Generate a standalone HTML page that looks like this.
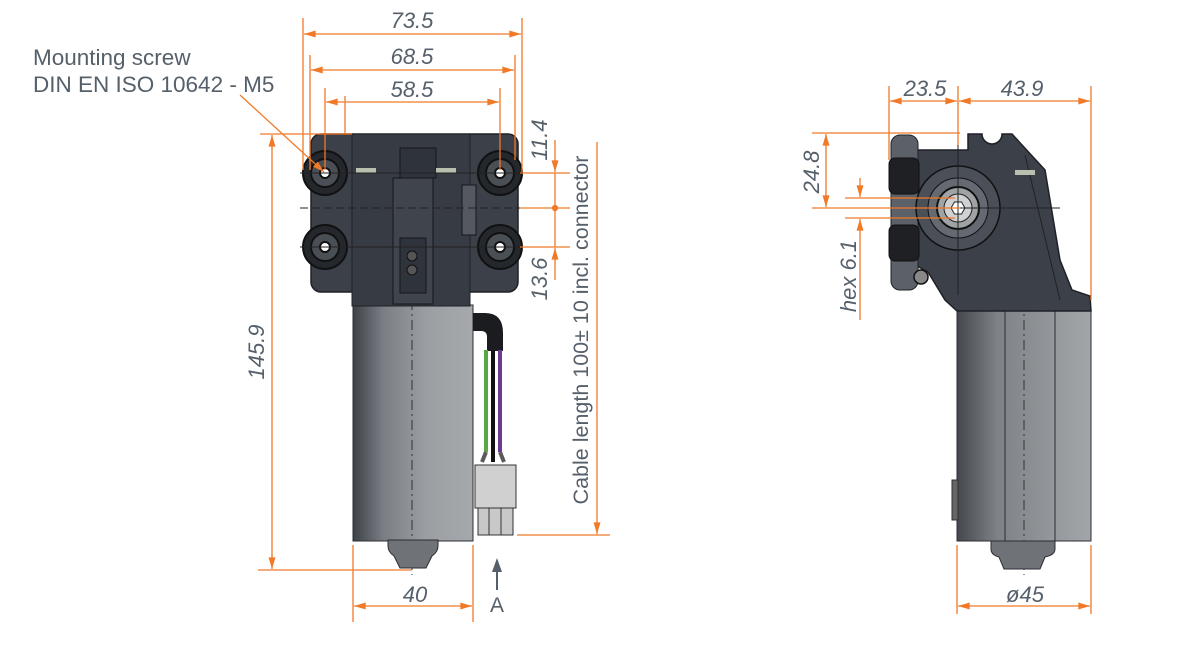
<!DOCTYPE html>
<html><head><meta charset="utf-8"><style>
html,body{margin:0;padding:0;background:#fff;}
svg{display:block;}
text{font-family:"Liberation Sans",sans-serif;fill:#56606b;}
</style></head><body>
<svg width="1200" height="646" viewBox="0 0 1200 646" xmlns="http://www.w3.org/2000/svg">
<defs>
<linearGradient id="mot" x1="0" x2="1" y1="0" y2="0">
<stop offset="0" stop-color="#3d4148"/><stop offset="0.25" stop-color="#7a7e84"/><stop offset="0.6" stop-color="#9a9ea2"/><stop offset="1" stop-color="#a6a9ac"/>
</linearGradient>
<linearGradient id="mot2" x1="0" x2="1" y1="0" y2="0">
<stop offset="0" stop-color="#44484e"/><stop offset="0.3" stop-color="#7e8287"/><stop offset="1" stop-color="#a3a6a9"/>
</linearGradient>
<marker id="ar" viewBox="0 0 10 6" refX="10" refY="3" markerWidth="12" markerHeight="7" orient="auto-start-reverse" markerUnits="userSpaceOnUse"><path d="M0,0 L10,3 L0,6 z" fill="#f07a28"/></marker>
</defs>

<!-- ===== LEFT VIEW ===== -->
<rect x="353" y="305" width="120" height="236" fill="url(#mot)" stroke="#2b2e33" stroke-width="1"/>
<line x1="412" y1="300" x2="412" y2="575" stroke="#333" stroke-dasharray="10,4,2,4" stroke-width="1"/>
<path d="M388,540 h50 v6 q0,6 -6,10 l-6,12 h-26 l-6,-12 q-6,-4 -6,-10z" fill="#6f7378" stroke="#2b2e33"/>
<rect x="311" y="134" width="207" height="158" rx="10" fill="#3b4049" stroke="#1e2126" stroke-width="1.5"/>
<rect x="352" y="134" width="118" height="172" fill="#363b44" stroke="#1e2126"/>
<rect x="400" y="148" width="36" height="30" fill="#2f333b" stroke="#15171a"/>
<rect x="393" y="178" width="40" height="126" fill="#3f444d" stroke="#15171a"/>
<rect x="400" y="238" width="26" height="55" fill="#2f333b" stroke="#15171a"/>
<circle cx="412" cy="256" r="5" fill="#555" stroke="#111"/><circle cx="412" cy="270" r="5" fill="#555" stroke="#111"/>
<rect x="462" y="185" width="14" height="50" fill="#55595f" stroke="#15171a"/>
<rect x="356" y="168" width="20" height="5" fill="#b9c0b0"/><rect x="436" y="168" width="20" height="5" fill="#b9c0b0"/>
<g stroke="#111" stroke-width="2">
<circle cx="325" cy="173" r="22" fill="#24272c"/><circle cx="325" cy="173" r="14" fill="#4a4e55"/><circle cx="325" cy="173" r="5" fill="#fff"/>
<circle cx="325" cy="247" r="22" fill="#24272c"/><circle cx="325" cy="247" r="14" fill="#4a4e55"/><circle cx="325" cy="247" r="5" fill="#fff"/>
<circle cx="500" cy="173" r="22" fill="#24272c"/><circle cx="500" cy="173" r="14" fill="#4a4e55"/><circle cx="500" cy="173" r="5" fill="#fff"/>
<circle cx="500" cy="247" r="22" fill="#24272c"/><circle cx="500" cy="247" r="14" fill="#4a4e55"/><circle cx="500" cy="247" r="5" fill="#fff"/>
</g>
<g stroke="#222" stroke-width="1">
<line x1="300" y1="173" x2="560" y2="173"/><line x1="300" y1="247" x2="560" y2="247"/>
<line x1="300" y1="208" x2="560" y2="208" stroke-dasharray="8,4"/>
</g>
<path d="M473,313 h12 q18,0 18,20 v18 h-16 v-14 q0,-6 -6,-6 h-8z" fill="#1b1c1f"/>
<line x1="486" y1="350" x2="486" y2="452" stroke="#5aa845" stroke-width="4"/>
<line x1="493" y1="350" x2="493" y2="462" stroke="#111" stroke-width="4"/>
<line x1="500" y1="350" x2="500" y2="452" stroke="#6a3b93" stroke-width="4"/>
<path d="M486,452 l-4,10 M500,452 l4,10" stroke="#5a5a5a" stroke-width="4"/>
<rect x="475" y="465" width="41" height="43" fill="#d0d0d0" stroke="#333"/>
<rect x="478" y="508" width="35" height="27" fill="#c8c8c8" stroke="#333"/>
<line x1="489" y1="508" x2="489" y2="535" stroke="#333"/><line x1="501" y1="508" x2="501" y2="535" stroke="#333"/>

<!-- ===== RIGHT VIEW ===== -->
<rect x="957" y="311" width="134" height="230" fill="url(#mot2)" stroke="#2b2e33"/>
<line x1="1005" y1="311" x2="1005" y2="541" stroke="#2b2e33"/><line x1="1055" y1="311" x2="1055" y2="541" stroke="#2b2e33"/>
<line x1="1024" y1="300" x2="1024" y2="575" stroke="#333" stroke-dasharray="10,4,2,4"/>
<rect x="952" y="480" width="6" height="40" fill="#666" stroke="#333"/>
<path d="M991,541 h64 v8 q0,6 -10,8 l-5,12 h-36 l-5,-12 q-8,-2 -8,-8z" fill="#6f7378" stroke="#2b2e33"/>
<path d="M917,150 L968,150 L968,134 L982,134 A10,10 0 0 0 1002,134 L1012,134 L1022,145 L1045,170 L1060,260 L1072,290 L1090,296 L1091,311 L957,311 L945,300 L928,272 L917,266 Z" fill="#3b4049" stroke="#1e2126" stroke-width="1.5"/>
<line x1="1025" y1="155" x2="1060" y2="300" stroke="#222"/>
<rect x="1015" y="170" width="20" height="5" fill="#b9c0b0"/>
<rect x="891" y="135" width="27" height="155" rx="9" fill="#5c6068" stroke="#1e2126"/>
<rect x="889" y="158" width="30" height="36" rx="6" fill="#1e2024" stroke="#111"/>
<rect x="889" y="225" width="30" height="36" rx="6" fill="#1e2024" stroke="#111"/>
<circle cx="921" cy="277" r="7" fill="#888" stroke="#111" stroke-width="1.5"/>
<circle cx="958" cy="208" r="42" fill="#4a4f58" stroke="#111" stroke-width="1.5"/>
<circle cx="958" cy="208" r="30" fill="#656a72" stroke="#111"/>
<circle cx="958" cy="208" r="21" fill="#a0a3a6" stroke="#111" stroke-width="2"/>
<circle cx="958" cy="208" r="14" fill="#cfd1d3" stroke="#222"/>
<polygon points="965,208 961.5,214 954.5,214 951,208 954.5,202 961.5,202" fill="#fff" stroke="#222"/>
<line x1="958" y1="140" x2="958" y2="295" stroke="#222"/>
<line x1="880" y1="208" x2="1060" y2="208" stroke="#222"/>

<!-- ===== DIMENSIONS ===== -->
<g stroke="#f07a28" stroke-width="1.3" fill="none">
<line x1="303" y1="18" x2="303" y2="170"/><line x1="522" y1="18" x2="522" y2="172"/>
<line x1="304" y1="34" x2="521" y2="34" marker-start="url(#ar)" marker-end="url(#ar)"/>
<line x1="310" y1="55" x2="310" y2="170"/><line x1="515" y1="55" x2="515" y2="160"/>
<line x1="311" y1="70" x2="514" y2="70" marker-start="url(#ar)" marker-end="url(#ar)"/>
<line x1="325" y1="88" x2="325" y2="170"/><line x1="500" y1="88" x2="500" y2="170"/><line x1="345" y1="96" x2="345" y2="134"/>
<line x1="326" y1="102" x2="499" y2="102" marker-start="url(#ar)" marker-end="url(#ar)"/>
<line x1="260" y1="134" x2="352" y2="134"/><line x1="258" y1="570" x2="412" y2="570"/>
<line x1="272" y1="135" x2="272" y2="569" marker-start="url(#ar)" marker-end="url(#ar)"/>
<line x1="240" y1="95" x2="324" y2="172" marker-end="url(#ar)"/>
<line x1="520" y1="173" x2="570" y2="173"/><line x1="520" y1="208" x2="570" y2="208"/><line x1="520" y1="247" x2="570" y2="247"/>
<line x1="555" y1="140" x2="555" y2="172" marker-end="url(#ar)"/>
<line x1="555" y1="173" x2="555" y2="247"/>
<line x1="555" y1="280" x2="555" y2="248" marker-end="url(#ar)"/>
<circle cx="555" cy="208" r="2.5" fill="#f07a28"/>
<line x1="517" y1="535" x2="610" y2="535"/>
<line x1="597" y1="142" x2="597" y2="534" marker-end="url(#ar)"/>
<line x1="353" y1="545" x2="353" y2="622"/><line x1="473" y1="545" x2="473" y2="622"/>
<line x1="354" y1="606" x2="472" y2="606" marker-start="url(#ar)" marker-end="url(#ar)"/>
<line x1="889" y1="86" x2="889" y2="160"/><line x1="958" y1="86" x2="958" y2="145"/><line x1="1091" y1="86" x2="1091" y2="300"/>
<line x1="890" y1="101" x2="957" y2="101" marker-start="url(#ar)" marker-end="url(#ar)"/>
<line x1="959" y1="101" x2="1090" y2="101" marker-start="url(#ar)" marker-end="url(#ar)"/>
<line x1="812" y1="133" x2="960" y2="133"/><line x1="812" y1="208" x2="960" y2="208"/>
<line x1="826" y1="134" x2="826" y2="207" marker-start="url(#ar)" marker-end="url(#ar)"/>
<line x1="845" y1="198" x2="955" y2="198"/><line x1="845" y1="218" x2="955" y2="218"/>
<line x1="860" y1="178" x2="860" y2="197" marker-end="url(#ar)"/>
<line x1="860" y1="320" x2="860" y2="219" marker-end="url(#ar)"/>
<line x1="957" y1="545" x2="957" y2="614"/><line x1="1091" y1="545" x2="1091" y2="614"/>
<line x1="958" y1="606" x2="1090" y2="606" marker-start="url(#ar)" marker-end="url(#ar)"/>
</g>
<line x1="497" y1="590" x2="497" y2="568" stroke="#56606b" stroke-width="2"/>
<polygon points="497,558 492,572 502,572" fill="#56606b"/>
<text x="497" y="612" font-size="21" text-anchor="middle">A</text>

<g font-style="italic" font-size="22" text-anchor="middle">
<text x="412" y="28">73.5</text>
<text x="412" y="64">68.5</text>
<text x="412" y="97">58.5</text>
<text x="415" y="602">40</text>
<text x="925" y="96">23.5</text>
<text x="1022" y="96">43.9</text>
<text x="1025" y="602">ø45</text>
<text transform="translate(264,352) rotate(-90)">145.9</text>
<text transform="translate(547,140) rotate(-90)">11.4</text>
<text transform="translate(547,279) rotate(-90)">13.6</text>
<text transform="translate(819,172) rotate(-90)">24.8</text>
<text transform="translate(856,276) rotate(-90)">hex 6.1</text>
</g>
<text transform="translate(588,330) rotate(-90)" font-size="21.5" text-anchor="middle">Cable length 100± 10 incl. connector</text>
<text x="33" y="65" font-size="22.5">Mounting screw</text>
<text x="33" y="92" font-size="22.5">DIN EN ISO 10642 - M5</text>
</svg>
</body></html>
